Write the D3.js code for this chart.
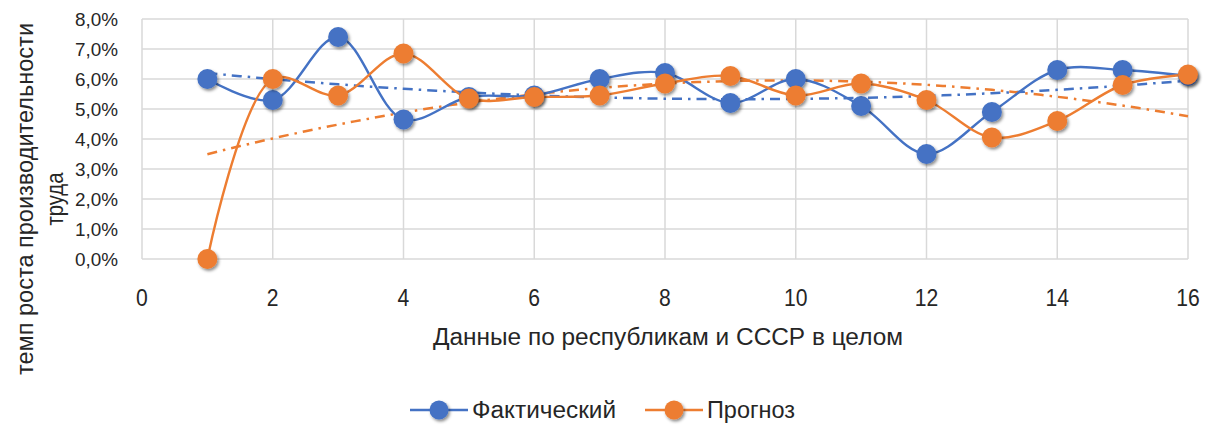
<!DOCTYPE html>
<html>
<head>
<meta charset="utf-8">
<script src="https://cdn.jsdelivr.net/npm/d3@7"></script>
<style>
  body { margin: 0; background: #fff; }
  text { font-family: "Liberation Sans Narrow", "Arial Narrow", "Liberation Sans", sans-serif; fill: #262626; }
</style>
</head>
<body>
<div class="graphic"></div>
<script>
// data
let xs = [1, 2, 3, 4, 5, 6, 7, 8, 9, 10, 11, 12, 13, 14, 15, 16];
let fact = [6.0, 5.3, 7.4, 4.65, 5.4, 5.45, 6.0, 6.2, 5.2, 6.0, 5.1, 3.5, 4.9, 6.3, 6.3, 6.1];
let prognoz = [0.0, 6.0, 5.45, 6.85, 5.35, 5.4, 5.45, 5.85, 6.1, 5.45, 5.85, 5.3, 4.05, 4.6, 5.8, 6.15];
let xTicks = [0, 2, 4, 6, 8, 10, 12, 14, 16];
let yTicks = [0, 1, 2, 3, 4, 5, 6, 7, 8];
let seriesNames = ["Фактический", "Прогноз"];
let colors = ["#4472C4", "#ED7D31"];

let svg = d3.select(".graphic")
            .append("svg")
            .attr("width", 1218)
            .attr("height", 427);

let plotLeft = 142, plotRight = 1188, plotTop = 19, plotBottom = 259;

let x = d3.scaleLinear().domain([0, 16]).range([plotLeft, plotRight]);
let y = d3.scaleLinear().domain([0, 8]).range([plotBottom, plotTop]);

let defs = svg.append("defs");
defs.append("filter")
    .attr("id", "shadow")
    .attr("x", "-50%").attr("y", "-50%")
    .attr("width", "200%").attr("height", "200%")
    .append("feDropShadow")
    .attr("dx", 1.5).attr("dy", 2)
    .attr("stdDeviation", 1.6)
    .attr("flood-color", "#000")
    .attr("flood-opacity", 0.45);

// grid
svg.append("g")
    .selectAll("line")
    .data(yTicks)
    .join("line")
    .attr("x1", plotLeft).attr("x2", plotRight)
    .attr("y1", d => y(d)).attr("y2", d => y(d))
    .attr("stroke", "#d9d9d9").attr("stroke-width", 1.5);

svg.append("g")
    .selectAll("line")
    .data(xTicks)
    .join("line")
    .attr("x1", d => x(d)).attr("x2", d => x(d))
    .attr("y1", plotTop).attr("y2", plotBottom)
    .attr("stroke", "#d9d9d9").attr("stroke-width", 1.5);

// axes
let yAxis = svg.append("g")
    .attr("transform", "translate(" + (plotLeft - 21) + ",0)")
    .call(d3.axisLeft(y).tickValues(yTicks).tickSize(0)
        .tickFormat(d => d.toFixed(1).replace(".", ",") + "%"));
yAxis.select(".domain").remove();
yAxis.selectAll("text").attr("font-size", 19).attr("dy", "0.35em")
    .attr("textLength", 43).attr("lengthAdjust", "spacingAndGlyphs");

let xAxis = svg.append("g")
    .attr("transform", "translate(0," + (plotBottom + 36) + ")")
    .call(d3.axisBottom(x).tickValues(xTicks).tickSize(0));
xAxis.select(".domain").remove();
xAxis.selectAll("text").attr("font-size", 24).attr("dy", "0.35em")
    .attr("transform", "scale(0.88,1)")
    .attr("x", d => x(d) / 0.88)
    .each(function() { d3.select(this.parentNode).attr("transform", "translate(0,0)"); });

svg.append("text")
    .attr("x", 668).attr("y", 345)
    .attr("text-anchor", "middle")
    .attr("font-size", 23)
    .attr("textLength", 470).attr("lengthAdjust", "spacingAndGlyphs")
    .text("Данные по республикам и СССР в целом");

let yTitle = svg.append("g").attr("transform", "translate(22,199) rotate(-90)");
yTitle.append("text")
    .attr("text-anchor", "middle").attr("y", 11)
    .attr("font-size", 23)
    .attr("textLength", 352).attr("lengthAdjust", "spacingAndGlyphs")
    .text("темп роста производительности");
yTitle.append("text")
    .attr("text-anchor", "middle").attr("y", 41)
    .attr("font-size", 23)
    .attr("textLength", 53).attr("lengthAdjust", "spacingAndGlyphs")
    .text("труда");

// quadratic least squares trend
function polyFit(xv, yv) {
    let n = xv.length;
    let s = [0, 0, 0, 0, 0], t = [0, 0, 0];
    for (let i = 0; i < n; i++) {
        let p = 1;
        for (let k = 0; k < 5; k++) { s[k] += p; if (k < 3) t[k] += p * yv[i]; p *= xv[i]; }
    }
    let m = [[s[0], s[1], s[2], t[0]], [s[1], s[2], s[3], t[1]], [s[2], s[3], s[4], t[2]]];
    for (let i = 0; i < 3; i++) {
        for (let j = i + 1; j < 3; j++) {
            let f = m[j][i] / m[i][i];
            for (let k = i; k < 4; k++) m[j][k] -= f * m[i][k];
        }
    }
    let c = [0, 0, 0];
    for (let i = 2; i >= 0; i--) {
        let v = m[i][3];
        for (let k = i + 1; k < 3; k++) v -= m[i][k] * c[k];
        c[i] = v / m[i][i];
    }
    return v => c[0] + c[1] * v + c[2] * v * v;
}

let allSeries = [fact, prognoz];
let trendX = d3.range(1, 16.01, 0.25);

let trendLine = d3.line().x(d => x(d[0])).y(d => y(d[1]));
allSeries.forEach(function(vals, i) {
    let f = polyFit(xs, vals);
    svg.append("path")
        .attr("d", trendLine(trendX.map(v => [v, f(v)])))
        .attr("fill", "none")
        .attr("stroke", colors[i])
        .attr("stroke-width", 2.5)
        .attr("stroke-dasharray", "10,6,2.5,6");
});

let line = d3.line()
    .x((d, i) => x(xs[i]))
    .y(d => y(d))
    .curve(d3.curveCatmullRom.alpha(0.5));

allSeries.forEach(function(vals, i) {
    svg.append("path")
        .attr("d", line(vals))
        .attr("fill", "none")
        .attr("stroke", colors[i])
        .attr("stroke-width", 2.4);
});

allSeries.forEach(function(vals, i) {
    svg.append("g")
        .selectAll("circle")
        .data(vals)
        .join("circle")
        .attr("cx", (d, j) => x(xs[j]))
        .attr("cy", d => y(d))
        .attr("r", 10)
        .attr("fill", colors[i])
        .attr("filter", "url(#shadow)");
});

// legend
let legendX = [410, 645];
let legendW = [144, 88];
seriesNames.forEach(function(name, i) {
    let g = svg.append("g").attr("transform", "translate(" + legendX[i] + ",410)");
    g.append("line")
        .attr("x1", 0).attr("x2", 58)
        .attr("stroke", colors[i]).attr("stroke-width", 2.4);
    g.append("circle")
        .attr("cx", 29).attr("r", 9.5)
        .attr("fill", colors[i])
        .attr("filter", "url(#shadow)");
    g.append("text")
        .attr("x", 62).attr("dy", "0.35em")
        .attr("font-size", 23)
        .attr("textLength", legendW[i]).attr("lengthAdjust", "spacingAndGlyphs")
        .text(name);
});
</script>
</body>
</html>
